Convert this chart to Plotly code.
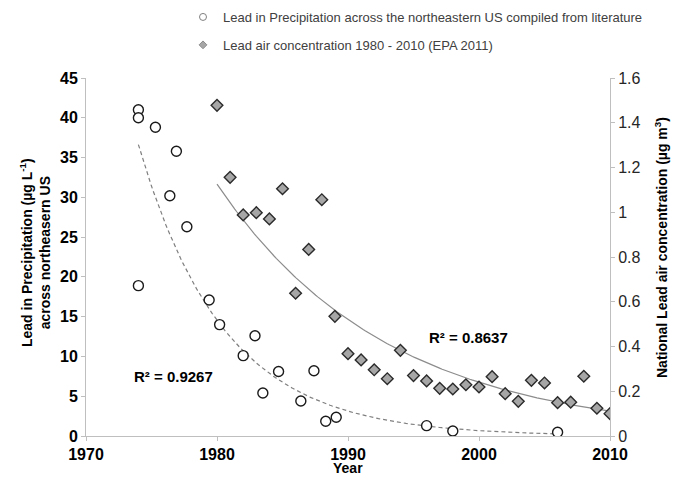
import numpy as np
import plotly.graph_objects as go

# ---- Data ----
precip_year = [1974, 1974, 1974, 1975.3, 1976.4, 1976.9, 1977.7, 1979.4, 1980.2, 1982.0,
               1982.9, 1983.5, 1984.7, 1986.4, 1987.4, 1988.3, 1989.1, 1996.0, 1998.0, 2006.0]
precip_lead = [41.0, 40.0, 18.9, 38.8, 30.2, 35.8, 26.3, 17.1, 14.0, 10.1,
               12.6, 5.4, 8.1, 4.4, 8.2, 1.85, 2.35, 1.3, 0.63, 0.47]

air_year = list(range(1980, 2011))
air_lead = [1.478, 1.156, 0.988, 0.998, 0.970, 1.105, 0.638, 0.834, 1.056, 0.535,
            0.368, 0.340, 0.296, 0.256, 0.383, 0.270, 0.246, 0.213, 0.210, 0.229,
            0.219, 0.265, 0.189, 0.155, 0.249, 0.237, 0.149, 0.151, 0.267, 0.124,
            0.100]

legend_names = ["Lead in Precipitation across the northeastern US compiled from literature",
                "Lead air concentration 1980 - 2010 (EPA 2011)"]
r2_labels = ["R² = 0.9267", "R² = 0.8637"]
x_ticks = [1970, 1980, 1990, 2000, 2010]


def expfit(x, y):
    x = np.asarray(x, float)
    y = np.asarray(y, float)
    b, lna = np.polyfit(x, np.log(y), 1)
    xs = np.linspace(x.min(), x.max(), 200)
    return xs, np.exp(lna + b * xs)


px_, py_ = expfit(precip_year, precip_lead)
ax_, ay_ = expfit(air_year, air_lead)

FONT = "Liberation Sans, Arial, sans-serif"

fig = go.Figure()

# trend lines
fig.add_trace(go.Scatter(x=px_, y=py_, mode="lines", showlegend=False,
                         line=dict(color="#7f7f7f", width=1.2, dash="4px,3px"), hoverinfo="skip"))
fig.add_trace(go.Scatter(x=ax_, y=ay_, mode="lines", showlegend=False, yaxis="y2",
                         line=dict(color="#8c8c8c", width=1.2), hoverinfo="skip"))

# data markers
fig.add_trace(go.Scatter(x=precip_year, y=precip_lead, mode="markers", showlegend=False,
                         marker=dict(symbol="circle", size=10, color="white",
                                     line=dict(color="#1a1a1a", width=1.4))))
fig.add_trace(go.Scatter(x=air_year, y=air_lead, mode="markers", showlegend=False, yaxis="y2",
                         marker=dict(symbol="diamond", size=9, color="#a6a6a6",
                                     line=dict(color="#2b2b2b", width=1.4))))

# legend entries (small markers)
fig.add_trace(go.Scatter(x=[None], y=[None], mode="markers", name=legend_names[0],
                         legendgroup="a",
                         marker=dict(symbol="circle", size=7, color="white",
                                     line=dict(color="#7f7f7f", width=1))))
fig.add_trace(go.Scatter(x=[None], y=[None], mode="markers", name=legend_names[1],
                         legendgroup="b", yaxis="y2",
                         marker=dict(symbol="diamond", size=6, color="#a6a6a6",
                                     line=dict(color="#8c8c8c", width=1))))

W, H = 675, 477
L, R, T, B = 86, 610, 78, 436
pw, ph = R - L, B - T


def xp(px):
    return (px - L) / pw


def yp(py):
    return (B - py) / ph


fig.update_layout(
    width=W, height=H,
    margin=dict(l=L, r=W - R, t=T, b=H - B, pad=0, autoexpand=False),
    paper_bgcolor="white", plot_bgcolor="white",
    font=dict(family=FONT, color="#000000"),
    showlegend=True,
    legend=dict(x=183 / W, y=1 - 2 / H, xref="container", yref="container",
                xanchor="left", yanchor="top",
                font=dict(size=13, color="#404040", family=FONT),
                tracegroupgap=8, bgcolor="rgba(0,0,0,0)", itemwidth=30),
    xaxis=dict(range=[1970, 2010], tickvals=x_ticks, showgrid=False, zeroline=False,
               automargin=False,
               showline=True, linecolor="#bfbfbf", linewidth=1,
               ticks="outside", ticklen=4, tickcolor="#bfbfbf",
               tickfont=dict(size=16, family=FONT, weight="bold", color="#000")),
    yaxis=dict(range=[0, 45], dtick=5, showgrid=False, zeroline=False,
               automargin=False,
               showline=True, linecolor="#bfbfbf", linewidth=1,
               ticks="outside", ticklen=4, tickcolor="#bfbfbf",
               tickfont=dict(size=16, family=FONT, weight="bold", color="#000")),
    yaxis2=dict(range=[0, 1.6], dtick=0.2, overlaying="y", side="right",
                showgrid=False, zeroline=False, automargin=False,
                showline=True, linecolor="#bfbfbf", linewidth=1,
                ticks="outside", ticklen=4, tickcolor="#bfbfbf",
                tickfont=dict(size=16, family=FONT, color="#262626")),
    annotations=[
        dict(text="Lead in Precipitation (µg L<sup>-1</sup>)<br>across northeasern US",
             xref="paper", yref="paper", x=xp(35), y=yp(253), textangle=-90,
             showarrow=False, xanchor="center", yanchor="middle",
             font=dict(size=14, family=FONT, weight="bold", color="#000")),
        dict(text="National Lead air concentration (µg m<sup>3</sup>)",
             xref="paper", yref="paper", x=xp(661), y=yp(248), textangle=-90,
             showarrow=False, xanchor="center", yanchor="middle",
             font=dict(size=14, family=FONT, weight="bold", color="#000")),
        dict(text="Year", xref="paper", yref="paper", x=xp(348), y=yp(468),
             showarrow=False, xanchor="center", yanchor="middle",
             font=dict(size=14, family=FONT, weight="bold", color="#000")),
        dict(text=r2_labels[0], xref="paper", yref="paper", x=xp(173), y=yp(376),
             showarrow=False, xanchor="center", yanchor="middle",
             font=dict(size=15, family=FONT, weight="bold", color="#000")),
        dict(text=r2_labels[1], xref="paper", yref="paper", x=xp(468), y=yp(337),
             showarrow=False, xanchor="center", yanchor="middle",
             font=dict(size=15, family=FONT, weight="bold", color="#000")),
    ],
)

fig.write_html("out.html", config={"displayModeBar": False},
               post_script="document.body.style.margin='0';document.body.style.padding='0';")
